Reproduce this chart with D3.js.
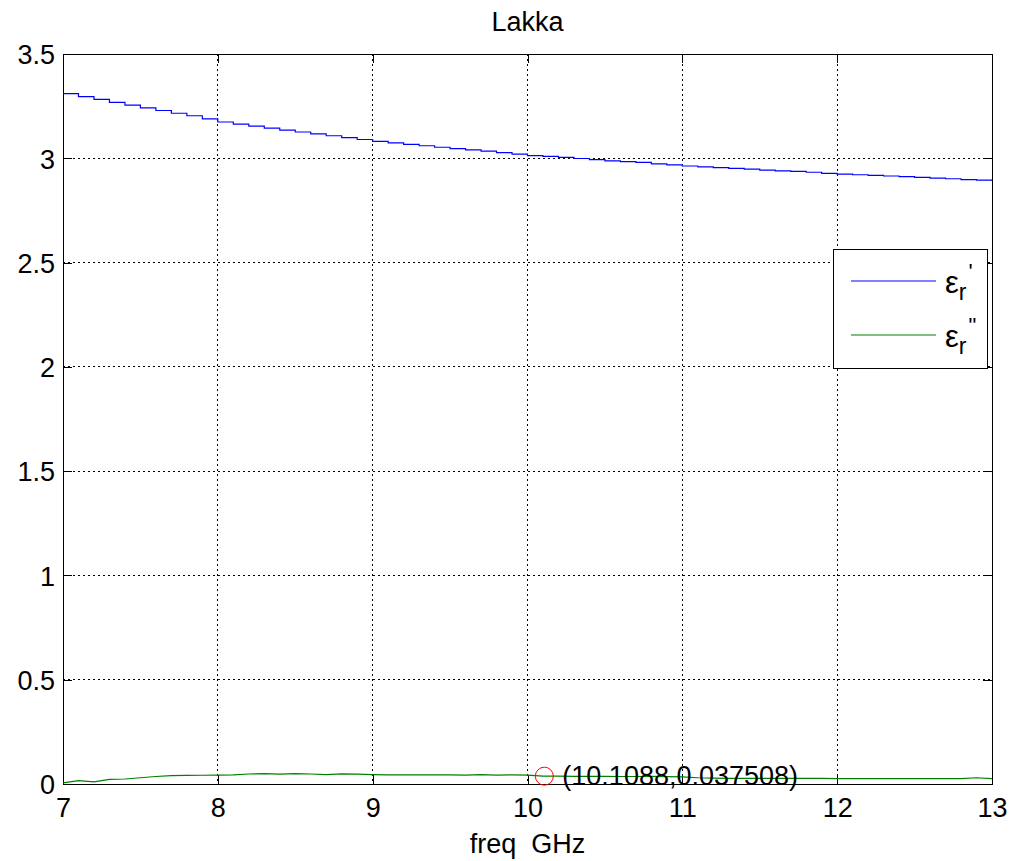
<!DOCTYPE html>
<html><head><meta charset="utf-8">
<script src="https://cdn.jsdelivr.net/npm/d3@7"></script>
<style>body{margin:0;background:#fff}svg{display:block}text{font-family:"Liberation Sans",Arial,sans-serif}</style>
</head><body>
<svg id="c" width="1012" height="861"></svg>
<script>
const freq = [7.0,7.1,7.2,7.3,7.4,7.5,7.6,7.7,7.8,7.9,8.0,8.1,8.2,8.3,8.4,8.5,8.6,8.7,8.8,8.9,9.0,9.1,9.2,9.3,9.4,9.5,9.6,9.7,9.8,9.9,10.0,10.1,10.2,10.3,10.4,10.5,10.6,10.7,10.8,10.9,11.0,11.1,11.2,11.3,11.4,11.5,11.6,11.7,11.8,11.9,12.0,12.1,12.2,12.3,12.4,12.5,12.6,12.7,12.8,12.9,13.0];
const epsReal = [3.310,3.296,3.282,3.268,3.255,3.242,3.229,3.216,3.204,3.189,3.174,3.164,3.154,3.145,3.135,3.126,3.117,3.108,3.099,3.090,3.081,3.074,3.067,3.060,3.053,3.046,3.040,3.034,3.027,3.020,3.013,3.009,3.004,2.999,2.994,2.988,2.984,2.980,2.973,2.968,2.963,2.959,2.955,2.952,2.948,2.943,2.940,2.937,2.933,2.928,2.924,2.921,2.918,2.915,2.912,2.908,2.905,2.902,2.898,2.895,2.891];
const epsImag = [0.005,0.016,0.010,0.022,0.024,0.030,0.036,0.040,0.041,0.042,0.043,0.044,0.048,0.050,0.047,0.050,0.048,0.045,0.049,0.047,0.045,0.044,0.044,0.044,0.044,0.044,0.043,0.045,0.043,0.044,0.043,0.038,0.038,0.037,0.037,0.037,0.036,0.036,0.037,0.035,0.034,0.030,0.028,0.027,0.027,0.027,0.027,0.027,0.027,0.027,0.026,0.026,0.026,0.026,0.026,0.026,0.026,0.026,0.026,0.030,0.026];
const xTicks = [7,8,9,10,11,12,13];
const yTicks = [0,0.5,1,1.5,2,2.5,3,3.5];
const marker = {x:10.1088, y:0.037508, label:"(10.1088,0.037508)"};
const title = "Lakka";
const xLabel = "freq  GHz";

const svg = d3.select("#c");
const L=63, R=992, T=54, B=784;
const x = d3.scaleLinear().domain([7,13]).range([L,R]);
const y = d3.scaleLinear().domain([0,3.5]).range([B,T]);
const fs = 27;

// grid
const g = svg.append("g");
g.selectAll(".gx").data(xTicks.slice(1,-1)).enter().append("line")
  .attr("x1",d=>x(d)).attr("x2",d=>x(d)).attr("y1",T).attr("y2",B)
  .attr("stroke","#000").attr("stroke-width",1).attr("stroke-dasharray","2,3").attr("shape-rendering","crispEdges");
g.selectAll(".gy").data(yTicks.slice(1,-1)).enter().append("line")
  .attr("y1",d=>y(d)).attr("y2",d=>y(d)).attr("x1",L).attr("x2",R)
  .attr("stroke","#000").attr("stroke-width",1).attr("stroke-dasharray","2,3").attr("shape-rendering","crispEdges");

// axes (ticks inward)
const ax = svg.append("g").attr("transform",`translate(0,${B})`)
  .call(d3.axisBottom(x).tickValues(xTicks).tickSize(-9).tickPadding(14).tickFormat(d3.format("d")));
const axT = svg.append("g").attr("transform",`translate(0,${T})`)
  .call(d3.axisTop(x).tickValues(xTicks).tickSize(-9).tickFormat(""));
const ay = svg.append("g").attr("transform",`translate(${L},0)`)
  .call(d3.axisLeft(y).tickValues(yTicks).tickSize(-9).tickPadding(8).tickFormat(d=>d3.format("")(d)));
const ayR = svg.append("g").attr("transform",`translate(${R},0)`)
  .call(d3.axisRight(y).tickValues(yTicks).tickSize(-9).tickFormat(""));
[ax,axT,ay,ayR].forEach(a=>{
  a.selectAll("path").attr("stroke","#000").attr("shape-rendering","crispEdges");
  a.selectAll("line").attr("stroke","#000").attr("shape-rendering","crispEdges");
  a.selectAll("text").attr("font-size",fs).attr("fill","#000").attr("font-family","Liberation Sans, Arial, sans-serif");
});
ax.selectAll("text").attr("dy",null).attr("y",33);
ay.selectAll("text").attr("dy","0.36em");

// clip
svg.append("clipPath").attr("id","clip").append("rect").attr("x",L).attr("y",T).attr("width",R-L).attr("height",B-T);

const lineR = d3.line().x((d,i)=>x(freq[i])).y(d=>y(d)).curve(d3.curveStepAfter);
const lineI = d3.line().x((d,i)=>x(freq[i])).y(d=>y(d));
svg.append("path").datum(epsReal).attr("d",lineR).attr("fill","none").attr("stroke","#0000ff").attr("stroke-width",1.2).attr("clip-path","url(#clip)");
svg.append("path").datum(epsImag).attr("d",lineI).attr("fill","none").attr("stroke","#008000").attr("stroke-width",1.2).attr("clip-path","url(#clip)");

// marker
svg.append("circle").attr("cx",x(marker.x)).attr("cy",y(marker.y)).attr("r",9)
  .attr("fill","none").attr("stroke","#ff0000").attr("stroke-width",1);
svg.append("text").attr("x",x(marker.x)+18).attr("y",y(marker.y)+9).attr("font-size",fs).attr("fill","#000").text(marker.label);

// title & label
svg.append("text").attr("x",(L+R)/2).attr("y",31).attr("text-anchor","middle").attr("font-size",fs).attr("fill","#000").text(title);
svg.append("text").attr("x",(L+R)/2).attr("y",853).attr("text-anchor","middle").attr("font-size",fs).attr("fill","#000")
  .attr("xml:space","preserve").style("white-space","pre").text(xLabel);

// legend
const lg = svg.append("g");
lg.append("rect").attr("x",833.5).attr("y",249.5).attr("width",154).attr("height",119).attr("fill","#fff").attr("stroke","#000").attr("stroke-width",1);
const items = [{c:"#0000ff",p:"'",yy:281},{c:"#008000",p:"\"",yy:335}];
items.forEach(it=>{
  lg.append("line").attr("x1",851).attr("x2",936).attr("y1",it.yy).attr("y2",it.yy).attr("stroke",it.c).attr("stroke-width",1.2);
  const t = lg.append("text").attr("x",945).attr("y",it.yy+12).attr("font-size",31).attr("fill","#000");
  t.append("tspan").text("ε");
  t.append("tspan").attr("font-size",23).attr("dy",7).text("r");
  t.append("tspan").attr("font-size",22).attr("dy",-21).attr("dx",2).text(it.p);
});
</script>
</body></html>
